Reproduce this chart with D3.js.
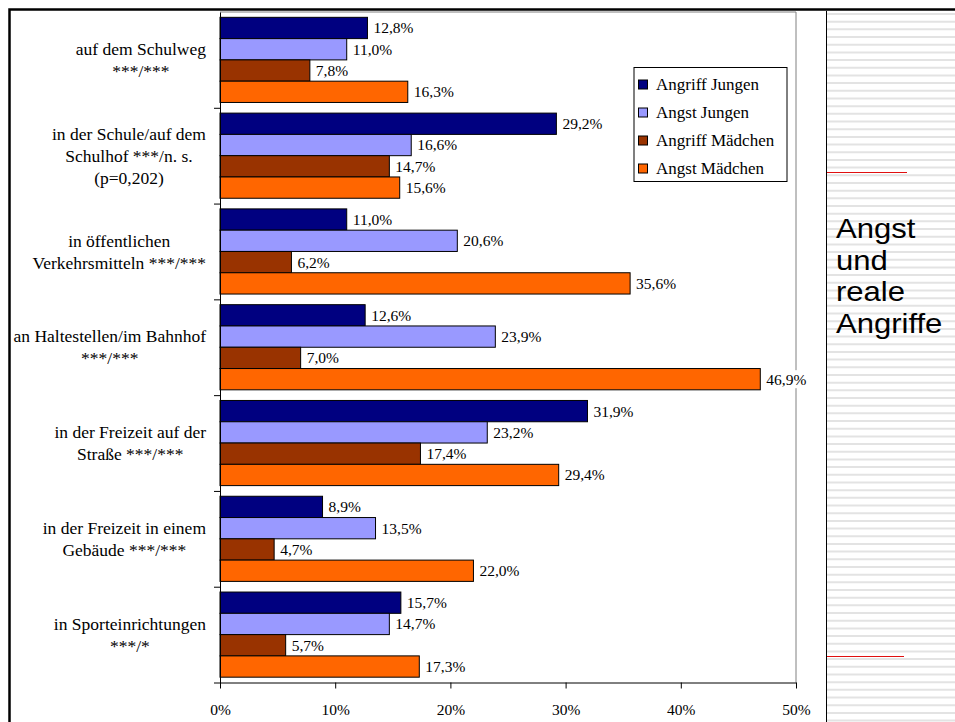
<!DOCTYPE html>
<html>
<head>
<meta charset="utf-8">
<script src="https://cdn.jsdelivr.net/npm/d3@7"></script>
<style>
  body { margin: 0; background: #fff; }
  svg { display: block; }
</style>
</head>
<body>
<svg id="chart" width="955" height="722"></svg>
<script>
// Locations (each entry holds the wrapped lines of its axis label)
const categories = [
  ["auf dem Schulweg", "***/***"],
  ["in der Schule/auf dem", "Schulhof ***/n. s.", "(p=0,202)"],
  ["in öffentlichen", "Verkehrsmitteln ***/***"],
  ["an Haltestellen/im Bahnhof", "***/***"],
  ["in der Freizeit auf der", "Straße ***/***"],
  ["in der Freizeit in einem", "Gebäude ***/***"],
  ["in Sporteinrichtungen", "***/*"]
];
const seriesNames = ["Angriff Jungen", "Angst Jungen", "Angriff Mädchen", "Angst Mädchen"];
const angriffJungen  = [12.8, 29.2, 11.0, 12.6, 31.9, 8.9, 15.7];
const angstJungen    = [11.0, 16.6, 20.6, 23.9, 23.2, 13.5, 14.7];
const angriffMaedchen = [7.8, 14.7, 6.2, 7.0, 17.4, 4.7, 5.7];
const angstMaedchen  = [16.3, 15.6, 35.6, 46.9, 29.4, 22.0, 17.3];
const xTicks = [0, 10, 20, 30, 40, 50];
const colors = ["#000080", "#9999FF", "#993300", "#FF6600"];
const sideTitle = ["Angst", "und", "reale", "Angriffe"];

const series = [angriffJungen, angstJungen, angriffMaedchen, angstMaedchen];

const svg = d3.select("#chart");
const serif = "'Liberation Serif', 'Times New Roman', serif";
const sans = "'Liberation Sans', Arial, sans-serif";

const plot = { left: 220, right: 796, top: 12, bottom: 682.5 };

const x = d3.scaleLinear().domain([0, 50]).range([plot.left, plot.right]);
const yGroup = d3.scaleBand().domain(d3.range(categories.length))
  .range([plot.top, plot.bottom]).padding(0);
const yBar = d3.scaleBand().domain(d3.range(series.length))
  .range([0, yGroup.bandwidth()]).paddingInner(0).paddingOuter(0.25);
const yEdge = d3.scaleLinear().domain([0, categories.length]).range([plot.top, plot.bottom]);

const fmt = v => d3.format(".1f")(v).replace(".", ",") + "%";

// plot frame (grey top and right edges)
svg.append("path")
  .attr("d", `M${plot.left},${plot.top}H${plot.right}V${plot.bottom}`)
  .attr("fill", "none").attr("stroke", "#808080").attr("stroke-width", 1);

// bars
const rows = [];
categories.forEach((c, i) => series.forEach((s, j) => rows.push({ i, j, v: s[i] })));

svg.append("g").selectAll("rect").data(rows).join("rect")
  .attr("x", x(0))
  .attr("y", d => yGroup(d.i) + yBar(d.j))
  .attr("width", d => x(d.v) - x(0))
  .attr("height", yBar.bandwidth())
  .attr("fill", d => colors[d.j])
  .attr("stroke", "#000").attr("stroke-width", 1);

// value labels on white boxes
const lab = svg.append("g").selectAll("g").data(rows).join("g")
  .attr("transform", d => `translate(${x(d.v)},${yGroup(d.i) + yBar(d.j) + yBar.bandwidth() / 2})`);
const labBox = lab.append("rect").attr("fill", "#fff");
const labText = lab.append("text")
  .attr("x", 6).attr("dy", "0.35em")
  .attr("font-family", serif).attr("font-size", 15.5)
  .attr("fill", "#000")
  .text(d => fmt(d.v));
labText.each(function () {
  const w = this.getComputedTextLength();
  d3.select(this.previousSibling)
    .attr("x", 1.5).attr("y", -9).attr("width", w + 8).attr("height", 18);
});

// x axis
const xAxis = svg.append("g")
  .attr("transform", `translate(0,${plot.bottom})`)
  .call(d3.axisBottom(x).tickValues(xTicks).tickFormat(d => d + "%").tickSize(6).tickSizeOuter(0));
xAxis.select(".domain").attr("stroke", "#000");
xAxis.selectAll(".tick line").attr("stroke", "#000");
xAxis.selectAll(".tick text")
  .attr("y", 21).attr("font-family", serif).attr("font-size", 15.5).attr("fill", "#000");

// y axis with ticks between categories
const yAxis = svg.append("g")
  .attr("transform", `translate(${plot.left},0)`)
  .call(d3.axisLeft(yEdge).tickValues(d3.range(1, categories.length + 1)).tickFormat("").tickSize(6).tickSizeOuter(0));
yAxis.select(".domain").attr("stroke", "#000");
yAxis.selectAll(".tick line").attr("stroke", "#000");

// category labels: lines centred within the widest line, block right-aligned
const catRight = 206, lineH = 22;
categories.forEach((lines, i) => {
  const g = svg.append("g");
  const cy = yGroup(i) + yGroup.bandwidth() / 2;
  const texts = lines.map((t, k) => g.append("text")
    .attr("font-family", serif).attr("font-size", 17.5).attr("fill", "#000")
    .attr("text-anchor", "middle")
    .attr("y", cy + (k - (lines.length - 1) / 2) * lineH)
    .attr("dy", "0.35em")
    .text(t));
  const maxW = d3.max(texts, t => t.node().getComputedTextLength());
  texts.forEach(t => t.attr("x", catRight - maxW / 2));
});

// legend
const legend = svg.append("g").attr("transform", "translate(634,67.5)");
legend.append("rect").attr("width", 153).attr("height", 114)
  .attr("fill", "#fff").attr("stroke", "#000").attr("stroke-width", 1);
seriesNames.forEach((name, j) => {
  const row = legend.append("g").attr("transform", `translate(0,${17 + j * 28})`);
  row.append("rect").attr("x", 4.5).attr("y", -4.5).attr("width", 9).attr("height", 9)
    .attr("fill", colors[j]).attr("stroke", "#000").attr("stroke-width", 1);
  row.append("text").attr("x", 22).attr("dy", "0.35em")
    .attr("font-family", serif).attr("font-size", 17).attr("fill", "#000").text(name);
});

// side panel with ruled background
const panel = { left: 827, right: 955, top: 11, bottom: 722 };
svg.append("rect").attr("x", panel.left).attr("y", panel.top)
  .attr("width", panel.right - panel.left).attr("height", panel.bottom - panel.top).attr("fill", "#fff");
svg.append("g").selectAll("line")
  .data(d3.range(panel.top + 3, panel.bottom, 7.68))
  .join("line")
  .attr("x1", panel.left).attr("x2", panel.right)
  .attr("y1", d => d).attr("y2", d => d)
  .attr("stroke", "#e3e3e3").attr("stroke-width", 2);
svg.append("line").attr("x1", panel.left - 0.5).attr("x2", panel.left - 0.5)
  .attr("y1", panel.top).attr("y2", panel.bottom).attr("stroke", "#000").attr("stroke-width", 1);
[[172, 907], [656, 904]].forEach(([yy, x2]) => {
  svg.append("line").attr("x1", panel.left).attr("x2", x2)
    .attr("y1", yy + 0.5).attr("y2", yy + 0.5).attr("stroke", "#e01010").attr("stroke-width", 1);
});
const title = svg.append("g").attr("transform", "translate(836,0) scale(1.15,1)");
sideTitle.forEach((t, k) => {
  title.append("text").attr("x", 0).attr("y", 238 + k * 31.7)
    .attr("font-family", sans).attr("font-size", 27).attr("fill", "#000").text(t);
});

// outer frame (top and left edges)
svg.append("path")
  .attr("d", "M9.5,722V9.5H955")
  .attr("fill", "none").attr("stroke", "#000").attr("stroke-width", 2.5);
</script>
</body>
</html>
